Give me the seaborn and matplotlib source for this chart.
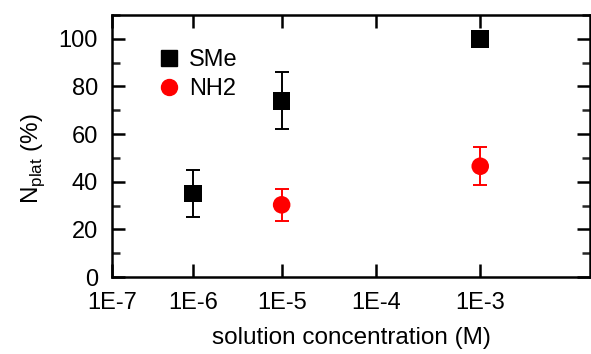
import numpy as np
import pandas as pd
import matplotlib
matplotlib.use("Agg")
import matplotlib.pyplot as plt
import seaborn as sns

# ---- data ----
conc_sme = [1e-6, 1e-5, 1e-3]
nplat_sme = [35, 74, 100]
err_sme = [10, 12, 0]

conc_nh2 = [1e-5, 1e-3]
nplat_nh2 = [30.3, 46.5]
err_nh2 = [6.7, 7.9]

xtick_vals = [1e-7, 1e-6, 1e-5, 1e-4, 1e-3]
xtick_labels = ["1E-7", "1E-6", "1E-5", "1E-4", "1E-3"]

sns.set_theme(style="ticks")
plt.rcParams['font.family'] = ['Liberation Sans', 'DejaVu Sans']
plt.rcParams['text.color'] = 'black'
plt.rcParams['axes.labelcolor'] = 'black'

fig = plt.figure(figsize=(5.91, 3.54), dpi=100)
ax = fig.add_axes([112/591, 1-277/354, 478/591, 262/354])

df = pd.concat([
    pd.DataFrame({"conc": conc_sme, "nplat": nplat_sme, "series": "SMe"}),
    pd.DataFrame({"conc": conc_nh2, "nplat": nplat_nh2, "series": "NH2"}),
])

ax.errorbar(conc_sme, nplat_sme, yerr=err_sme, fmt="none", ecolor="black",
            elinewidth=1.4, capsize=5, capthick=1.4, zorder=2)
ax.errorbar(conc_nh2, nplat_nh2, yerr=err_nh2, fmt="none", ecolor="#ff0000",
            elinewidth=1.4, capsize=5, capthick=1.4, zorder=2)

sns.scatterplot(data=df, x="conc", y="nplat", hue="series", style="series",
                palette={"SMe": "black", "NH2": "#ff0000"},
                markers={"SMe": "s", "NH2": "o"}, s=160, edgecolor="none",
                ax=ax, zorder=3, legend=False)

# nonuniform decade spacing as in the reference
dec = np.array([-7.0, -6.0, -5.0, -4.0, -3.0, -1.94])
pix = np.array([0.0, 81.0, 170.0, 265.0, 369.0, 479.0])

def fwd(x):
    x = np.asarray(x, dtype=float)
    lx = np.log10(np.clip(x, 1e-30, None))
    return np.interp(lx, dec, pix, left=-1e3, right=1e3)

def inv(p):
    p = np.asarray(p, dtype=float)
    return 10 ** np.interp(p, pix, dec)

ax.set_xscale("function", functions=(fwd, inv))
ax.set_xlim(1e-7, 10 ** -1.94)
ax.set_ylim(0, 110)
ax.set_xticks(xtick_vals)
ax.set_xticklabels(xtick_labels)
ax.set_yticks([0, 20, 40, 60, 80, 100])
ax.set_yticks([10, 30, 50, 70, 90, 110], minor=True)
ax.xaxis.set_minor_locator(matplotlib.ticker.NullLocator())

for s in ax.spines.values():
    s.set_linewidth(1.8)
    s.set_color("black")
    s.set_visible(True)

ax.tick_params(axis="both", which="major", direction="in", length=9.5, width=1.8,
               labelsize=17, colors="black", top=True, right=True)
ax.tick_params(axis="y", which="major", pad=10)
ax.tick_params(axis="x", which="major", pad=11)
ax.tick_params(axis="y", which="minor", direction="in", length=6, width=1.8,
               right=True, left=True)

ax.set_xlabel("solution concentration (M)", fontsize=17.5, labelpad=9, color="black")
ax.set_ylabel(r"N$_{\mathregular{plat}}$ (%)", fontsize=17.5, color="black")
ax.yaxis.set_label_coords(-0.137, 0.45)

from matplotlib.lines import Line2D
handles = [Line2D([], [], marker="s", color="black", linestyle="none", markersize=11.5),
           Line2D([], [], marker="o", color="#ff0000", linestyle="none", markersize=11.5)]
ax.legend(handles, ["SMe", "NH2"], loc="upper left", bbox_to_anchor=(0.07, 0.905),
          frameon=False, fontsize=17, handletextpad=0.25, labelspacing=0.3,
          handlelength=1.2, borderaxespad=0)

fig.savefig("out.png", dpi=100)
